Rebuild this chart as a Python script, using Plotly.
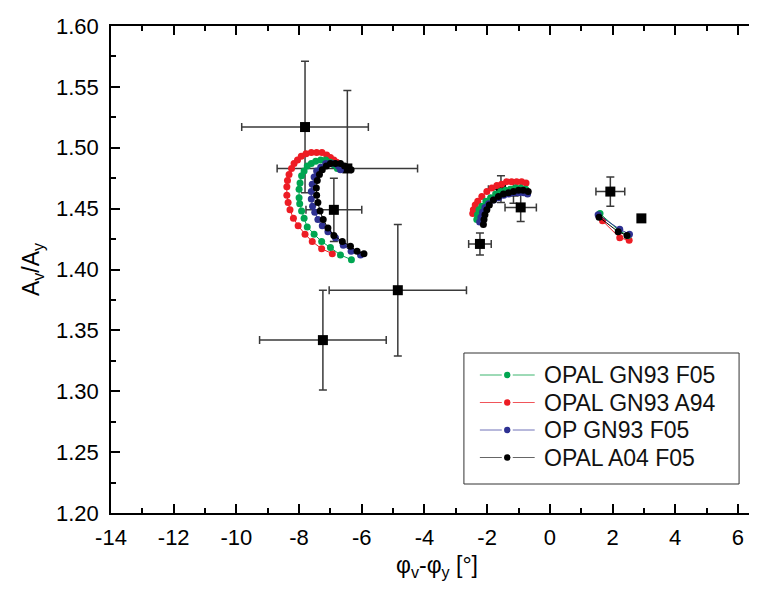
import plotly.graph_objects as go

# ---------------- data ----------------
# Observed points (black squares) with symmetric error bars
obs_x = [-7.81, -6.89, -6.46, -4.85, -7.24, -2.23, -0.93, -1.56, -1.16, 1.93, 2.92]
obs_y = [1.517, 1.449, 1.483, 1.383, 1.342, 1.421, 1.451, 1.466, 1.464, 1.464, 1.442]
obs_xerr = [2.02, 0.89, 2.24, 2.19, 2.02, 0.36, 0.50, 0.40, 0.30, 0.46, 0.0]
obs_yerr = [0.054, 0.026, 0.064, 0.054, 0.041, 0.009, 0.0115, 0.011, 0.0096, 0.012, 0.0]

# Model tracks: three segments each (left arc, middle arc, right segment), None = gap
red_x = [-6.94, -7.28, -7.58, -7.81, -8.03, -8.18, -8.29, -8.35, -8.39, -8.39, -8.37, -8.32,
         -8.24, -8.16, -8.05, -7.93, -7.78, -7.61, -7.44, -7.27, -7.12, -7.00, -6.89, -6.80,
         None,
         -2.46, -2.44, -2.38, -2.30, -2.17, -2.01, -1.85, -1.69, -1.54, -1.38, -1.22, -1.06,
         -0.90, -0.76,
         None,
         1.68, 2.23, 2.53]
red_y = [1.413, 1.417, 1.423, 1.429, 1.436, 1.442, 1.449, 1.455, 1.461, 1.468, 1.473, 1.478,
         1.483, 1.487, 1.490, 1.493, 1.495, 1.496, 1.496, 1.496, 1.494, 1.492, 1.490, 1.488,
         None,
         1.446, 1.449, 1.453, 1.456, 1.460, 1.464, 1.467, 1.469, 1.470, 1.472, 1.472, 1.472,
         1.472, 1.471,
         None,
         1.440, 1.426, 1.424]

green_x = [-6.33, -6.68, -7.00, -7.28, -7.52, -7.74, -7.84, -7.92, -7.98, -8.00, -8.00, -7.97,
           -7.92, -7.84, -7.74, -7.61, -7.47, -7.31, -7.15, -7.01, -6.89, -6.78,
           None,
           -2.33, -2.31, -2.26, -2.17, -2.04, -1.89, -1.73, -1.57, -1.41, -1.25, -1.09, -0.93,
           -0.77,
           None,
           1.60, 2.20, 2.50]
green_y = [1.408, 1.412, 1.418, 1.423, 1.429, 1.435, 1.442, 1.448, 1.454, 1.459, 1.466, 1.471,
           1.477, 1.481, 1.485, 1.487, 1.489, 1.490, 1.490, 1.488, 1.486, 1.483,
           None,
           1.441, 1.445, 1.449, 1.452, 1.456, 1.459, 1.462, 1.464, 1.465, 1.466, 1.467, 1.467,
           1.466,
           None,
           1.446, 1.432, 1.428]

blue_x = [-6.04, -6.34, -6.59, -6.84, -7.08, -7.26, -7.40, -7.50, -7.57, -7.61, -7.61, -7.58,
          -7.52, -7.44, -7.31, -7.15, -7.00, -6.86, -6.75, -6.68,
          None,
          -2.24, -2.20, -2.15, -2.07, -1.95, -1.79, -1.63, -1.47, -1.31, -1.15, -1.00, -0.84,
          -0.71,
          None,
          1.54, 2.23, 2.54]
blue_y = [1.412, 1.415, 1.420, 1.426, 1.431, 1.436, 1.441, 1.447, 1.452, 1.458, 1.464, 1.470,
          1.476, 1.481, 1.484, 1.487, 1.487, 1.487, 1.485, 1.482,
          None,
          1.439, 1.443, 1.447, 1.451, 1.454, 1.457, 1.459, 1.461, 1.462, 1.463, 1.463, 1.463,
          1.462,
          None,
          1.445, 1.433, 1.429]

black_x = [-5.93, -6.15, -6.36, -6.62, -6.89, -7.08, -7.23, -7.33, -7.40, -7.44, -7.45, -7.42,
           -7.35, -7.26, -7.13, -7.00, -6.84, -6.68, -6.55, -6.44, -6.34,
           None,
           -2.12, -2.10, -2.07, -2.01, -1.93, -1.80, -1.64, -1.48, -1.32, -1.16, -1.00, -0.85,
           -0.69,
           None,
           1.57, 2.18, 2.46]
black_y = [1.413, 1.415, 1.419, 1.423, 1.428, 1.434, 1.441, 1.448, 1.455, 1.461, 1.467, 1.473,
           1.478, 1.482, 1.485, 1.487, 1.487, 1.487, 1.485, 1.483, 1.482,
           None,
           1.437, 1.441, 1.445, 1.449, 1.453, 1.457, 1.460, 1.462, 1.463, 1.464, 1.465, 1.465,
           1.464,
           None,
           1.443, 1.431, 1.428]

legend_names = ["OPAL GN93 F05", "OPAL GN93 A94", "OP GN93 F05", "OPAL A04 F05"]
x_ticks = [-14, -12, -10, -8, -6, -4, -2, 0, 2, 4, 6]
y_ticks = [1.20, 1.25, 1.30, 1.35, 1.40, 1.45, 1.50, 1.55, 1.60]

# ---------------- figure ----------------
FONT = "Liberation Sans, Arial, sans-serif"
W, H = 757, 591
ML, MR, MT, MB = 103, 0, 18, 86
PW, PH = W - ML - MR, H - MT - MB

def px2paper_x(px):
    return (px - ML) / PW

def px2paper_y(py):
    return (H - MB - py) / PH

fig = go.Figure()

fig.add_trace(go.Scatter(
    x=obs_x, y=obs_y, mode="markers", showlegend=False,
    marker=dict(symbol="square", size=10, color="black"),
    error_x=dict(type="data", array=obs_xerr, color="#3a3a3a", thickness=1.5, width=4),
    error_y=dict(type="data", array=obs_yerr, color="#3a3a3a", thickness=1.5, width=4),
))

colors = {"OPAL GN93 F05": "#00A651", "OPAL GN93 A94": "#ED1C24",
          "OP GN93 F05": "#2E3192", "OPAL A04 F05": "#000000"}
line_colors = {"OPAL GN93 F05": "#3DB56F", "OPAL GN93 A94": "#F0555A",
               "OP GN93 F05": "#7073B8", "OPAL A04 F05": "#666666"}
# draw order (back to front): red, green, blue, black
series = [
    ("OPAL GN93 A94", red_x, red_y),
    ("OPAL GN93 F05", green_x, green_y),
    ("OP GN93 F05", blue_x, blue_y),
    ("OPAL A04 F05", black_x, black_y),
]
for name, xs, ys in series:
    fig.add_trace(go.Scatter(
        x=xs, y=ys, mode="lines+markers", name=name, showlegend=False,
        line=dict(color=colors[name], width=1),
        marker=dict(size=7, color=colors[name]),
        connectgaps=False,
    ))

# ---- legend box drawn manually (to match item spacing of the reference) ----
shapes = []
annotations = []
box_l, box_r, box_t, box_b = 457, 733, 345, 476
shapes.append(dict(type="rect", xref="paper", yref="paper", layer="above",
                   x0=px2paper_x(box_l), x1=px2paper_x(box_r),
                   y0=px2paper_y(box_b), y1=px2paper_y(box_t),
                   line=dict(color="#333333", width=1), fillcolor="white"))
row0, row_gap = 367, 27.5
for i, name in enumerate(legend_names):
    yy = px2paper_y(row0 + i * row_gap)
    for a, b in ((473, 495), (506, 528)):
        shapes.append(dict(type="line", xref="paper", yref="paper", layer="above",
                           x0=px2paper_x(a), x1=px2paper_x(b), y0=yy, y1=yy,
                           line=dict(color=line_colors[name], width=1)))
    shapes.append(dict(type="circle", xref="paper", yref="paper", layer="above",
                       xsizemode="pixel", ysizemode="pixel",
                       xanchor=px2paper_x(500.5), yanchor=yy,
                       x0=-3.2, x1=3.2, y0=-3.2, y1=3.2,
                       line=dict(width=0), fillcolor=colors[name]))
    annotations.append(dict(xref="paper", yref="paper", x=px2paper_x(535), y=yy,
                            xanchor="left", yanchor="middle", showarrow=False,
                            text=name, font=dict(family=FONT, size=23, color="#111111")))

axis_common = dict(
    showline=True, linecolor="black", linewidth=1.5, mirror="allticks",
    ticks="inside", ticklen=9, tickwidth=1.5, tickcolor="black",
    showgrid=False, zeroline=False,
    tickfont=dict(family=FONT, size=22, color="black"),
)

fig.update_xaxes(
    range=[-14, 6.8], tickvals=x_ticks,
    ticktext=[str(v) for v in x_ticks],
    minor=dict(dtick=1, ticks="inside", ticklen=5, tickwidth=1.5, tickcolor="black", showgrid=False),
    title=dict(text="φ<sub>v</sub>-φ<sub>y</sub> [°]", font=dict(family=FONT, size=23, color="black"), standoff=8),
    ticklabelstandoff=4,
    **axis_common,
)
fig.update_yaxes(
    range=[1.2, 1.6], tickvals=y_ticks,
    ticktext=[f"{v:.2f}" for v in y_ticks],
    minor=dict(dtick=0.025, ticks="inside", ticklen=5, tickwidth=1.5, tickcolor="black", showgrid=False),
    title=dict(text="A<sub>v</sub>/A<sub>y</sub>", font=dict(family=FONT, size=23, color="black"), standoff=10),
    ticklabelstandoff=6,
    **axis_common,
)

fig.update_layout(
    width=W, height=H,
    margin=dict(l=ML, r=MR, t=MT, b=MB),
    plot_bgcolor="white", paper_bgcolor="white",
    font=dict(family=FONT, color="black"),
    showlegend=False,
    shapes=shapes,
    annotations=annotations,
)

fig.write_html("out.html")
